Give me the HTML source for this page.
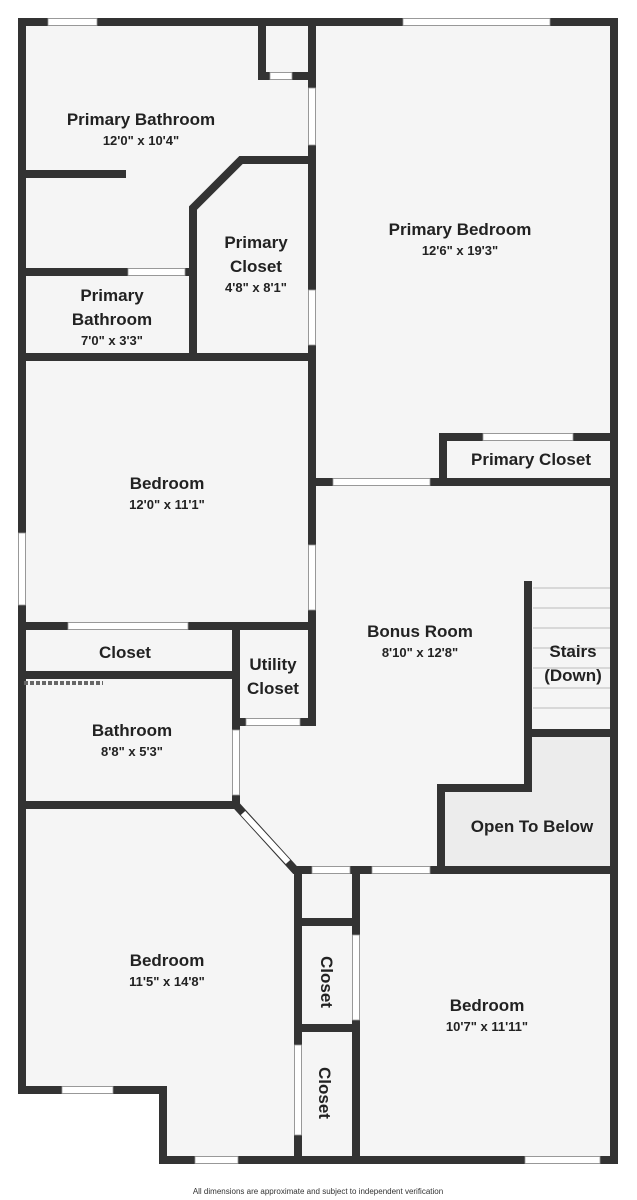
<!DOCTYPE html>
<html><head><style>
body{margin:0;background:#fff;}
svg{display:block;}
text{font-family:"Liberation Sans",sans-serif;font-weight:bold;fill:#222;text-anchor:middle;}
.n{font-size:17px;}
.d{font-size:13px;}
</style></head><body>
<svg width="637" height="1200" viewBox="0 0 637 1200">
<path d="M22 22H614V1160H163V1090H22Z" fill="#f5f5f5"/>
<path d="M441 870V788H528V733H614V870Z" fill="#ececec"/>
<g stroke="#333" stroke-width="8" fill="none" stroke-linecap="square">
<path d="M22 22H614V1160H163V1090H22Z"/>
<path d="M262 22V76H312"/>
<path d="M312 22V720"/>
<path d="M22 174H122"/>
<path d="M312 160H241L193 208V357"/>
<path d="M22 272H193"/>
<path d="M22 357H312"/>
<path d="M312 482H614"/>
<path d="M443 482V437H614"/>
<path d="M22 626H312"/>
<path d="M236 626V805"/>
<path d="M236 722H312"/>
<path d="M22 675H236"/>
<path d="M22 805H236L295 870H614"/>
<path d="M441 870V788H528V585"/>
<path d="M528 733H614"/>
<path d="M298 870V1160"/>
<path d="M356 870V1160"/>
<path d="M298 922H356"/>
<path d="M298 1028H356"/>
</g>
<g fill="#fff" stroke="#999" stroke-width="0.8">
<rect x="48" y="18.5" width="49" height="7"/>
<rect x="403" y="18.5" width="147" height="7"/>
<rect x="270" y="72.5" width="22" height="7"/>
<rect x="308.5" y="88" width="7" height="57"/>
<rect x="308.5" y="290" width="7" height="55"/>
<rect x="128" y="268.5" width="57" height="7"/>
<rect x="333" y="478.5" width="97" height="7"/>
<rect x="483" y="433.5" width="90" height="7"/>
<rect x="308.5" y="545" width="7" height="65"/>
<rect x="18.5" y="533" width="7" height="72"/>
<rect x="68" y="622.5" width="120" height="7"/>
<rect x="246" y="718.5" width="54" height="7"/>
<rect x="232.5" y="730" width="7" height="65"/>
<rect x="312" y="866.5" width="38" height="7"/>
<rect x="372" y="866.5" width="58" height="7"/>
<rect x="352.5" y="935" width="7" height="85"/>
<rect x="294.5" y="1045" width="7" height="90"/>
<rect x="62" y="1086.5" width="51" height="7"/>
<rect x="195" y="1156.5" width="43" height="7"/>
<rect x="525" y="1156.5" width="75" height="7"/>
</g>
<path d="M243 813L288 862" stroke="#fff" stroke-width="6"/>
<path d="M24 683H103" stroke="#666" stroke-width="4" stroke-dasharray="4 2"/>
<g stroke="#bbb" stroke-width="1">
<path d="M533 588H610M533 608H610M533 628H610M533 648H610M533 668H610M533 688H610M533 708H610"/>
</g>
<text class="n" x="141" y="125">Primary Bathroom</text>
<text class="d" x="141" y="145">12'0" x 10'4"</text>
<text class="n" x="460" y="235">Primary Bedroom</text>
<text class="d" x="460" y="255">12'6" x 19'3"</text>
<text class="n" x="256" y="248">Primary</text>
<text class="n" x="256" y="272">Closet</text>
<text class="d" x="256" y="292">4'8" x 8'1"</text>
<text class="n" x="112" y="301">Primary</text>
<text class="n" x="112" y="325">Bathroom</text>
<text class="d" x="112" y="345">7'0" x 3'3"</text>
<text class="n" x="531" y="465">Primary Closet</text>
<text class="n" x="167" y="489">Bedroom</text>
<text class="d" x="167" y="509">12'0" x 11'1"</text>
<text class="n" x="420" y="637">Bonus Room</text>
<text class="d" x="420" y="657">8'10" x 12'8"</text>
<text class="n" x="573" y="657">Stairs</text>
<text class="n" x="573" y="681">(Down)</text>
<text class="n" x="125" y="658">Closet</text>
<text class="n" x="273" y="670">Utility</text>
<text class="n" x="273" y="694">Closet</text>
<text class="n" x="132" y="736">Bathroom</text>
<text class="d" x="132" y="756">8'8" x 5'3"</text>
<text class="n" x="532" y="832">Open To Below</text>
<text class="n" x="167" y="966">Bedroom</text>
<text class="d" x="167" y="986">11'5" x 14'8"</text>
<text class="n" x="487" y="1011">Bedroom</text>
<text class="d" x="487" y="1031">10'7" x 11'11"</text>
<text class="n" transform="translate(321 982) rotate(90)">Closet</text>
<text class="n" transform="translate(319 1093) rotate(90)">Closet</text>
<text x="318" y="1194" style="font-size:8px;font-weight:normal;fill:#333">All dimensions are approximate and subject to independent verification</text>
</svg>
</body></html>
